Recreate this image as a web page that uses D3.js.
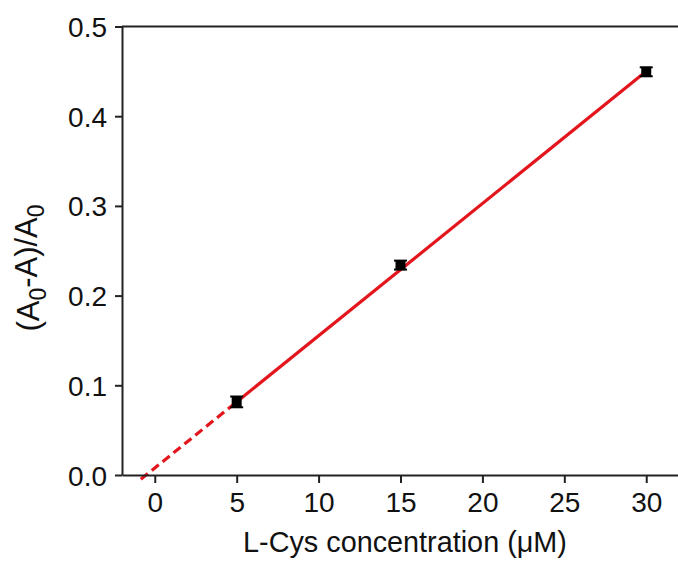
<!DOCTYPE html>
<html lang="en">
<head>
  <meta charset="UTF-8">
  <title>L-Cys calibration</title>
  <script src="https://d3js.org/d3.v7.min.js"></script>
  <style>
    body { margin:0; background:#fff; overflow:hidden; }
    svg { display:block; }
    text { font-family: "Liberation Sans", Arial, sans-serif; fill:#111; }
  </style>
</head>
<body>
  <script>
    // data
    const concentrations = [5, 15, 30];
    const responses = [0.0815, 0.234, 0.4495];
    const errors = [0.006, 0.005, 0.005];
    const xTicks = [0, 5, 10, 15, 20, 25, 30];
    const yTicks = [0, 0.1, 0.2, 0.3, 0.4, 0.5];
    // linear fit drawn through the points
    const fitSlope = 0.01474;
    const fitIntercept = 0.0078;
    const dashStart = -0.85;

    const width = 678, height = 562;

    const x = d3.scaleLinear().domain([-2, 32]).range([122, 679]);
    const y = d3.scaleLinear().domain([0, 0.5]).range([475, 26.5]);

    const svg = d3.select("body").append("svg")
      .attr("width", width).attr("height", height);

    // lines (drawn first so markers sit on top)
    const fit = v => fitIntercept + fitSlope * v;
    const red = "#e3161d";
    svg.append("line")
      .attr("x1", x(dashStart)).attr("y1", y(fit(dashStart)))
      .attr("x2", x(concentrations[0])).attr("y2", y(fit(concentrations[0])))
      .attr("stroke", red).attr("stroke-width", 3.2)
      .attr("stroke-dasharray", "9,5");
    svg.append("line")
      .attr("x1", x(concentrations[0])).attr("y1", y(fit(concentrations[0])))
      .attr("x2", x(concentrations[2])).attr("y2", y(fit(concentrations[2])))
      .attr("stroke", red).attr("stroke-width", 3.2);

    // axes
    const xAxis = svg.append("g")
      .attr("transform", `translate(0,${y(0)})`)
      .call(d3.axisBottom(x).tickValues(xTicks).tickSize(8).tickSizeOuter(0).tickPadding(9));
    const yAxis = svg.append("g")
      .attr("transform", `translate(${x(-2)},0)`)
      .call(d3.axisLeft(y).tickValues(yTicks).tickFormat(d3.format(".1f")).tickSize(7).tickSizeOuter(0).tickPadding(8));

    // top frame line
    svg.append("line")
      .attr("x1", x(-2)).attr("x2", 679)
      .attr("y1", y(0.5)).attr("y2", y(0.5))
      .attr("stroke", "#222").attr("stroke-width", 2);

    [xAxis, yAxis].forEach(g => {
      g.select(".domain").attr("stroke", "#222").attr("stroke-width", 2);
      g.selectAll(".tick line").attr("stroke", "#222").attr("stroke-width", 2);
      g.selectAll(".tick text").style("font-size", "28px").attr("fill", "#111");
    });
    yAxis.selectAll(".tick text").attr("dy", "0.36em");

    // error bars + square markers
    const pts = concentrations.map((c, i) => ({c, v: responses[i], e: errors[i]}));
    const mk = svg.append("g").selectAll("g").data(pts).join("g");
    mk.append("line")
      .attr("x1", d => x(d.c)).attr("x2", d => x(d.c))
      .attr("y1", d => y(d.v + d.e)).attr("y2", d => y(d.v - d.e))
      .attr("stroke", "#000").attr("stroke-width", 2);
    mk.append("line")
      .attr("x1", d => x(d.c) - 6.5).attr("x2", d => x(d.c) + 6.5)
      .attr("y1", d => y(d.v + d.e)).attr("y2", d => y(d.v + d.e))
      .attr("stroke", "#000").attr("stroke-width", 2);
    mk.append("line")
      .attr("x1", d => x(d.c) - 6.5).attr("x2", d => x(d.c) + 6.5)
      .attr("y1", d => y(d.v - d.e)).attr("y2", d => y(d.v - d.e))
      .attr("stroke", "#000").attr("stroke-width", 2);
    mk.append("rect")
      .attr("x", d => x(d.c) - 5).attr("y", d => y(d.v) - 5)
      .attr("width", 10).attr("height", 10)
      .attr("fill", "#000");

    // axis titles
    svg.append("text")
      .attr("x", 405).attr("y", 552)
      .attr("text-anchor", "middle")
      .style("font-size", "28.8px")
      .text("L-Cys concentration (\u03bcM)");

    const yl = svg.append("text")
      .attr("transform", "translate(39,268) rotate(-90)")
      .attr("text-anchor", "middle")
      .style("font-size", "31px");
    yl.append("tspan").text("(A");
    yl.append("tspan").attr("dy", "0.3em").style("font-size", "23px").text("0");
    yl.append("tspan").attr("dy", "-0.3em").text("-A)/A");
    yl.append("tspan").attr("dy", "0.3em").style("font-size", "23px").text("0");
  </script>
</body>
</html>
